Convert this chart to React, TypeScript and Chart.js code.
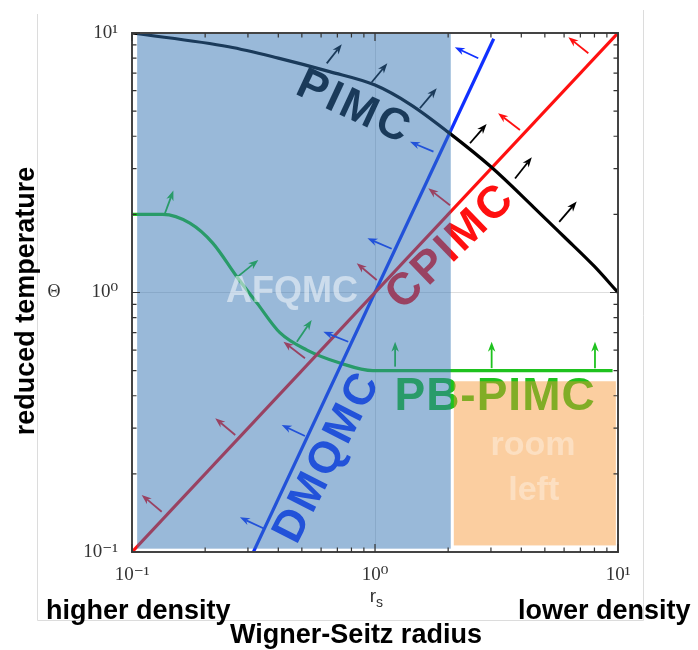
import React, { useEffect, useRef } from 'react';
import { Chart, registerables } from 'chart.js';

Chart.register(...registerables);

// ---------------- data (r_s , Theta) ----------------
const pimcRs = [0.1, 0.25, 0.4, 0.65, 1.0, 1.4, 2.0, 3.0, 4.5, 6.0, 8.0, 10];
const pimcTheta = [10, 8.85, 8.0, 7.1, 6.3, 5.3, 4.15, 3.05, 2.13, 1.64, 1.26, 1.0];

const cpimcRs = [0.1, 10];
const cpimcTheta = [0.1, 10];

const dmqmcRs = [0.316, 3.08];
const dmqmcTheta = [0.1, 9.5];

const pbpimcRs = [0.1, 0.134, 0.173, 0.215, 0.27, 0.327, 0.406, 0.525, 0.717, 0.98, 2, 5, 9.5];
const pbpimcTheta = [2.0, 2.0, 1.85, 1.55, 1.15, 0.91, 0.7, 0.6, 0.535, 0.5, 0.5, 0.5, 0.5];

// arrows: [tailRs, tailTheta, headRs, headTheta]
const pimcArrows = [
  [0.633, 7.64, 0.73, 9.05], [0.969, 6.46, 1.124, 7.64], [1.53, 5.13, 1.795, 6.12],
  [2.46, 3.76, 2.88, 4.46], [3.77, 2.75, 4.42, 3.32], [5.73, 1.87, 6.76, 2.24],
];
const cpimcArrows = [
  [7.55, 8.35, 6.25, 9.63], [3.95, 4.23, 3.21, 4.91], [2.035, 2.17, 1.657, 2.52],
  [1.016, 1.117, 0.841, 1.296], [0.515, 0.558, 0.42, 0.646], [0.266, 0.2825, 0.22, 0.3275],
  [0.1325, 0.143, 0.1096, 0.166],
];
const dmqmcArrows = [
  [2.66, 7.99, 2.13, 8.81], [1.74, 3.49, 1.393, 3.81], [1.171, 1.474, 0.931, 1.618],
  [0.776, 0.646, 0.613, 0.706], [0.515, 0.28, 0.413, 0.3086], [0.347, 0.1234, 0.278, 0.136],
];
const pbpimcArrows = [
  [0.1367, 2.02, 0.148, 2.47], [0.27, 1.144, 0.331, 1.334], [0.477, 0.646, 0.549, 0.783],
  [1.21, 0.518, 1.21, 0.646], [3.02, 0.511, 3.02, 0.646], [8.04, 0.511, 8.04, 0.646],
];

// shaded regions: [rsMin, rsMax], [thetaMin, thetaMax]
const groundStateRegionRs = [0.105, 2.05];
const groundStateRegionTheta = [0.103, 10];
const roomLeftRegionRs = [2.11, 9.8];
const roomLeftRegionTheta = [0.106, 0.455];

// method labels
const methodNames = ['PIMC', 'CPIMC', 'DMQMC', 'PB-PIMC'];
const methodLabelRs = [0.82, 2.06, 0.64, 3.12];
const methodLabelTheta = [5.14, 1.5, 0.232, 0.395];

const logTicks = [0.1, 0.2, 0.3, 0.4, 0.5, 0.6, 0.7, 0.8, 0.9, 1, 2, 3, 4, 5, 6, 7, 8, 9, 10];

// ---------------- helpers ----------------
const isDecade = (v: number) => {
  const l = Math.log10(v);
  return Math.abs(l - Math.round(l)) < 1e-6;
};
const supMap: Record<string, string> = { '-': '\u207B', '0': '\u2070', '1': '\u00B9', '2': '\u00B2' };
const tickLabel = (v: number) => {
  if (!isDecade(v)) return '';
  const e = String(Math.round(Math.log10(v)));
  return '10' + e.split('').map((c) => supMap[c] || c).join('');
};
const pts = (xs: number[], ys: number[]) => xs.map((x, i) => ({ x, y: ys[i] }));

const SANS = '"Liberation Sans", Arial, Helvetica, sans-serif';
const SERIF = '"Liberation Serif", "DejaVu Serif", serif';

const COLORS = {
  pimc: '#000000',
  cpimc: '#ff1010',
  dmqmc: '#1030ff',
  pbpimc: '#1ec21e',
};

function drawArrow(ctx: CanvasRenderingContext2D, tx: number, ty: number, hx: number, hy: number, color: string) {
  const dx = hx - tx, dy = hy - ty;
  const L = Math.hypot(dx, dy) || 1;
  const ux = dx / L, uy = dy / L;
  const hl = 10, hw = 7.5;
  const bx = hx - ux * hl, by = hy - uy * hl;
  ctx.strokeStyle = color;
  ctx.fillStyle = color;
  ctx.lineWidth = 1.8;
  ctx.beginPath();
  ctx.moveTo(tx, ty);
  ctx.lineTo(bx + ux * 3, by + uy * 3);
  ctx.stroke();
  ctx.beginPath();
  ctx.moveTo(hx, hy);
  ctx.lineTo(bx - uy * hw / 2, by + ux * hw / 2);
  ctx.lineTo(bx + ux * 3, by + uy * 3);
  ctx.lineTo(bx + uy * hw / 2, by - ux * hw / 2);
  ctx.closePath();
  ctx.fill();
}

const phasePlugin = {
  id: 'phaseDiagram',
  afterDatasetsDraw(chart: any) {
    const { ctx, chartArea: a, scales } = chart;
    const X = (v: number) => scales.x.getPixelForValue(v);
    const Y = (v: number) => scales.y.getPixelForValue(v);
    ctx.save();
    ctx.beginPath();
    ctx.rect(a.left, a.top, a.right - a.left, a.bottom - a.top);
    ctx.clip();

    // arrows
    const groups: [number[][], string][] = [
      [pimcArrows, COLORS.pimc],
      [cpimcArrows, COLORS.cpimc],
      [dmqmcArrows, COLORS.dmqmc],
      [pbpimcArrows, COLORS.pbpimc],
    ];
    groups.forEach(([arr, col]) => {
      arr.forEach((r) => drawArrow(ctx, X(r[0]), Y(r[1]), X(r[2]), Y(r[3]), col));
    });

    // method labels
    const angles = [25, -44, -63, 0];
    const cols = [COLORS.pimc, COLORS.cpimc, COLORS.dmqmc, COLORS.pbpimc];
    const sizes = [44, 45, 44, 46];
    const spacing = [3, 3, 3, 1];
    methodNames.forEach((name, i) => {
      ctx.save();
      ctx.translate(X(methodLabelRs[i]), Y(methodLabelTheta[i]));
      ctx.rotate((angles[i] * Math.PI) / 180);
      ctx.font = `bold ${sizes[i]}px ${SANS}`;
      (ctx as any).letterSpacing = `${spacing[i]}px`;
      ctx.fillStyle = cols[i];
      ctx.textAlign = 'center';
      ctx.textBaseline = 'middle';
      ctx.fillText(name, 0, 0);
      ctx.restore();
    });

    // translucent overlays
    ctx.fillStyle = 'rgba(52,116,180,0.5)';
    ctx.fillRect(
      X(groundStateRegionRs[0]), Y(groundStateRegionTheta[1]),
      X(groundStateRegionRs[1]) - X(groundStateRegionRs[0]),
      Y(groundStateRegionTheta[0]) - Y(groundStateRegionTheta[1])
    );
    ctx.fillStyle = 'rgba(247,149,49,0.46)';
    ctx.fillRect(
      X(roomLeftRegionRs[0]), Y(roomLeftRegionTheta[1]),
      X(roomLeftRegionRs[1]) - X(roomLeftRegionRs[0]),
      Y(roomLeftRegionTheta[0]) - Y(roomLeftRegionTheta[1])
    );

    // white translucent labels
    ctx.textAlign = 'center';
    ctx.textBaseline = 'middle';
    (ctx as any).letterSpacing = '0px';
    ctx.font = `bold 36px ${SANS}`;
    ctx.fillStyle = 'rgba(255,255,255,0.5)';
    ctx.fillText('AFQMC', X(0.455), Y(1.0));
    ctx.font = `bold 34px ${SANS}`;
    ctx.fillStyle = 'rgba(255,255,255,0.35)';
    ctx.fillText('room', X(4.47), Y(0.258));
    ctx.fillText('left', X(4.5), Y(0.173));
    ctx.restore();

    // frame
    ctx.save();
    ctx.strokeStyle = '#444';
    ctx.lineWidth = 2;
    ctx.strokeRect(a.left, a.top, a.right - a.left, a.bottom - a.top);
    // inward ticks on all sides
    ctx.strokeStyle = '#333';
    ctx.lineWidth = 1.2;
    logTicks.forEach((v) => {
      const len = isDecade(v) ? 8 : 4.5;
      const px = X(v), py = Y(v);
      ctx.beginPath();
      ctx.moveTo(px, a.bottom); ctx.lineTo(px, a.bottom - len);
      ctx.moveTo(px, a.top); ctx.lineTo(px, a.top + len);
      ctx.moveTo(a.left, py); ctx.lineTo(a.left + len, py);
      ctx.moveTo(a.right, py); ctx.lineTo(a.right - len, py);
      ctx.stroke();
    });
    ctx.restore();
  },
  afterDraw(chart: any) {
    const { ctx, chartArea: a } = chart;
    ctx.save();
    // faint outer frame lines
    ctx.strokeStyle = '#dcdcdc';
    ctx.lineWidth = 1;
    ctx.beginPath();
    ctx.moveTo(37.5, 14); ctx.lineTo(37.5, 620.5);
    ctx.lineTo(643.5, 620.5); ctx.lineTo(643.5, 10);
    ctx.stroke();

    ctx.fillStyle = '#000';
    ctx.textBaseline = 'middle';
    // y title
    ctx.save();
    ctx.translate(27, 301);
    ctx.rotate(-Math.PI / 2);
    ctx.textAlign = 'center';
    ctx.font = `bold 27px ${SANS}`;
    ctx.fillText('reduced temperature', 0, 0);
    ctx.restore();
    // Theta
    ctx.textAlign = 'center';
    ctx.font = `18px ${SERIF}`;
    ctx.fillStyle = '#333';
    ctx.fillText('\u0398', 54, 292);
    // r_s
    const cx = (a.left + a.right) / 2;
    ctx.font = `19px ${SANS}`;
    ctx.textAlign = 'right';
    ctx.fillText('r', cx + 1, 597);
    ctx.textAlign = 'left';
    ctx.font = `14px ${SANS}`;
    ctx.fillText('s', cx + 1, 603);
    // bottom texts
    ctx.fillStyle = '#000';
    ctx.font = `bold 27px ${SANS}`;
    ctx.textAlign = 'left';
    ctx.fillText('higher density', 46, 612);
    ctx.fillText('lower density', 518, 612);
    ctx.textAlign = 'center';
    ctx.fillText('Wigner-Seitz radius', 356, 636);
    ctx.restore();
  },
};

const gridColor = (c: any) =>
  c.tick && Math.abs(c.tick.value - 1) < 1e-9 ? 'rgba(0,0,0,0.13)' : 'rgba(0,0,0,0)';

export default function App() {
  const ref = useRef<HTMLCanvasElement | null>(null);
  useEffect(() => {
    document.body.style.margin = '0';
    const canvas = ref.current!;
    const line = (data: any[], color: string) => ({
      data,
      borderColor: color,
      backgroundColor: color,
      borderWidth: 3.2,
      pointRadius: 0,
      fill: false,
      cubicInterpolationMode: 'monotone' as const,
    });
    const chart = new Chart(canvas, {
      type: 'line',
      data: {
        datasets: [
          { label: 'PIMC', ...line(pts(pimcRs, pimcTheta), COLORS.pimc) },
          { label: 'CPIMC', ...line(pts(cpimcRs, cpimcTheta), COLORS.cpimc) },
          { label: 'DMQMC', ...line(pts(dmqmcRs, dmqmcTheta), COLORS.dmqmc) },
          { label: 'PB-PIMC', ...line(pts(pbpimcRs, pbpimcTheta), COLORS.pbpimc) },
        ],
      },
      options: {
        animation: false,
        responsive: false,
        maintainAspectRatio: false,
        layout: { padding: { left: 0, top: 33, right: 80, bottom: 0 } },
        plugins: { legend: { display: false }, tooltip: { enabled: false } },
        scales: {
          x: {
            type: 'logarithmic',
            position: 'bottom',
            min: 0.1,
            max: 10,
            afterBuildTicks: (s: any) => {
              s.ticks = logTicks.map((v) => ({ value: v, major: isDecade(v) }));
            },
            afterFit: (s: any) => { s.height = 98; },
            ticks: {
              autoSkip: false,
              maxRotation: 0,
              minRotation: 0,
              padding: 12,
              color: '#333',
              font: { family: SERIF, size: 19 },
              callback: (v: any) => tickLabel(Number(v)),
            },
            grid: { drawTicks: false, color: gridColor, lineWidth: 1 },
            border: { display: false },
          },
          y: {
            type: 'logarithmic',
            position: 'left',
            min: 0.1,
            max: 10,
            afterBuildTicks: (s: any) => {
              s.ticks = logTicks.map((v) => ({ value: v, major: isDecade(v) }));
            },
            afterFit: (s: any) => { s.width = 132; },
            ticks: {
              autoSkip: false,
              padding: 14,
              color: '#333',
              font: { family: SERIF, size: 19 },
              callback: (v: any) => tickLabel(Number(v)),
            },
            grid: { drawTicks: false, color: gridColor, lineWidth: 1 },
            border: { display: false },
          },
        },
      },
      plugins: [phasePlugin],
    });
    return () => chart.destroy();
  }, []);
  return <canvas ref={ref} width={698} height={650} style={{ display: 'block' }} />;
}
